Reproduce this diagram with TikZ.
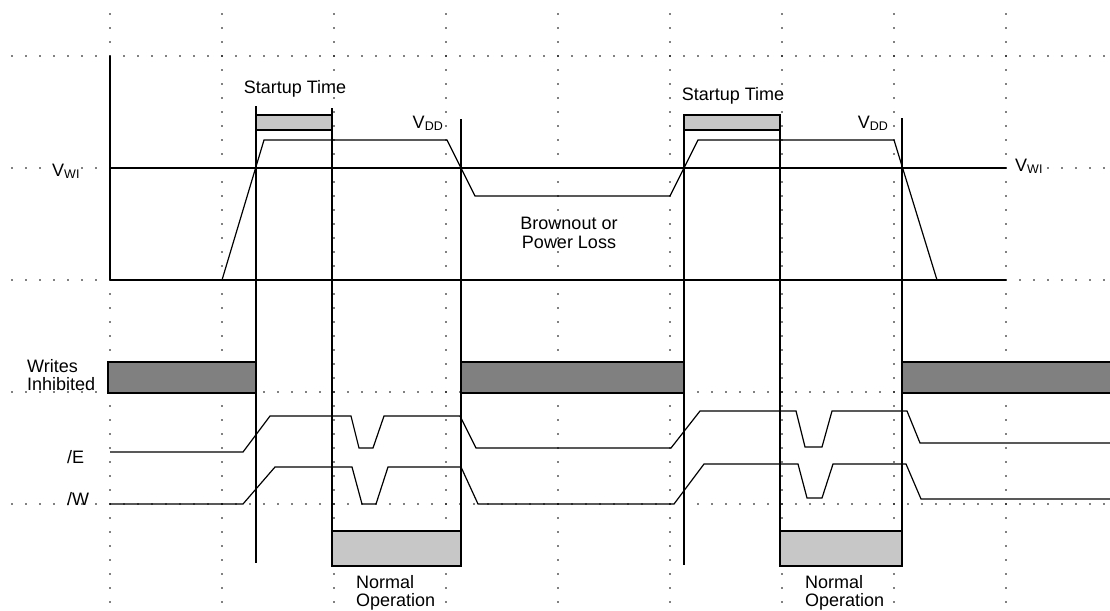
\documentclass[tikz,border=0pt]{standalone}
\usepackage{fontspec}
\setmainfont{Liberation Sans}
\newcommand{\sbs}[1]{{\fontsize{12.5}{12.5}\selectfont\raisebox{-2.5pt}{#1}}}
\begin{document}
\begin{tikzpicture}[x=1pt,y=-1pt,
  sig/.style={line width=1.2pt, line join=miter},
  dotmark/.style={fill=black},
  lbl/.style={font=\fontsize{18}{19}\selectfont, inner sep=0pt},
  lightbox/.style={fill=black!22, draw=black, line width=1.2pt},
  darkbox/.style={fill=black!50, draw=black, line width=1.2pt}]
\useasboundingbox (0,0) rectangle (1110,610);
% dotted grid
\foreach \y in {56,168,280,392,504}
  \foreach \x in {12,26,...,1104} \fill[dotmark] (\x,\y) circle (0.85);
\foreach \x in {110,222,...,1006}
  \foreach \y in {14,28,...,602} \fill[dotmark] (\x,\y) circle (0.85);
% axes
\draw[sig] (110,56) -- (110,280);
\draw[sig] (110,168) -- (1006,168);
\draw[sig] (110,280) -- (1006,280);
% shaded boxes
\draw[lightbox] (256,115) rectangle (332,130);
\draw[lightbox] (684,115) rectangle (780,130);
\draw[darkbox] (108,362) rectangle (256,393);
\draw[darkbox] (461,362) rectangle (684,393);
\draw[darkbox] (902,362) rectangle (1114,393);
\draw[lightbox] (332,531) rectangle (461,566);
\draw[lightbox] (780,531) rectangle (902,566);
% vertical markers
\draw[sig] (256,106) -- (256,563);
\draw[sig] (332,108) -- (332,566);
\draw[sig] (461,119) -- (461,566);
\draw[sig] (684,114) -- (684,565);
\draw[sig] (780,115) -- (780,566);
\draw[sig] (902,118) -- (902,566);
% VDD waveform
\draw[sig] (222,280) -- (264,140) -- (447,140) -- (475,196) -- (670,196)
  -- (698,140) -- (894,140) -- (937,280);
% /E waveform
\draw[sig] (110,452) -- (243,452) -- (270,416) -- (351,416) -- (359,448)
  -- (373,448) -- (384,416) -- (460,416) -- (476,448) -- (671,448)
  -- (700,411) -- (796,411) -- (805,447) -- (822,447) -- (832,411)
  -- (907,411) -- (920,443) -- (1110,443);
% /W waveform
\draw[sig] (110,504) -- (243,504) -- (275,467) -- (352,467) -- (362,504)
  -- (376,504) -- (388,467) -- (461,467) -- (478,504) -- (674,504)
  -- (704,464) -- (798,464) -- (807,498) -- (822,498) -- (833,464)
  -- (906,464) -- (921,499) -- (1110,499);
% labels
\node[lbl, anchor=base] (st1) at (295,93) {Startup Time};
\node[lbl, anchor=base] (st2) at (733,100) {Startup Time};
\node[lbl, anchor=base east] (vdd1) at (443,128) {V\sbs{DD}};
\node[lbl, anchor=base east] (vdd2) at (888,128) {V\sbs{DD}};
\node[lbl, anchor=base west, fill=white] (vwi1) at (52,176) {V\sbs{WI}};
\node[lbl, anchor=base west, fill=white] (vwi2) at (1015,171) {V\sbs{WI}};
\node[lbl, anchor=base] (bo1) at (569,229) {Brownout or};
\node[lbl, anchor=base] (bo2) at (569,248) {Power Loss};
\node[lbl, anchor=base west] (wi1) at (27,372) {Writes};
\node[lbl, anchor=base west] (wi2) at (27,390) {Inhibited};
\node[lbl, anchor=base west] (le) at (67,463) {/E};
\node[lbl, anchor=base west] (lw) at (67,505) {/W};
\node[lbl, anchor=base west] (no1) at (356,588) {Normal};
\node[lbl, anchor=base west] (op1) at (356,606) {Operation};
\node[lbl, anchor=base west] (no2) at (805,588) {Normal};
\node[lbl, anchor=base west] (op2) at (805,606) {Operation};
\end{tikzpicture}
\end{document}
